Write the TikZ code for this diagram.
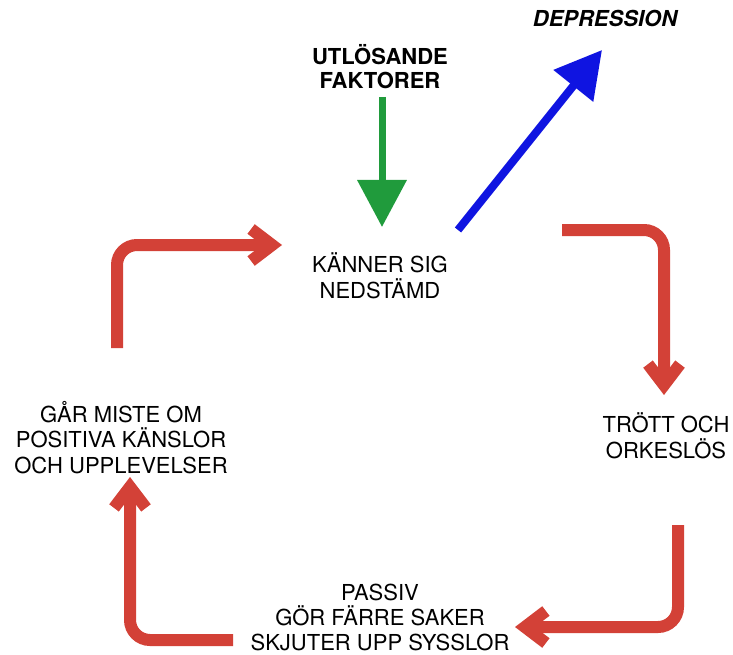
\documentclass[tikz,border=0pt]{standalone}
\usepackage{fontspec}
\setmainfont{TeX Gyre Heros}
\usetikzlibrary{arrows.meta}
\definecolor{cycred}{RGB}{211,65,55}
\definecolor{trigreen}{RGB}{32,155,60}
\definecolor{depblue}{RGB}{15,20,225}
\tikzset{
  lbl/.style={inner sep=0pt, align=center, anchor=base, font=\fontsize{22}{25.5}\selectfont},
  cyc/.style={draw=cycred, line width=12pt, rounded corners=20pt,
    -{Straight Barb[length=21pt,width=32pt,line width=12pt]}},
}
\begin{document}
\begin{tikzpicture}[x=1pt,y=-1pt]
\useasboundingbox (0,0) rectangle (733,655);
% texts (anchor = baseline of last line)
\node[lbl, font=\fontsize{22}{25}\bfseries\itshape] (dep) at (605,27) {DEPRESSION};
\node[lbl, font=\fontsize{22}{24}\bfseries] (utl) at (380,89) {UTLÖSANDE\\FAKTORER};
\node[lbl] (kan) at (380,298) {KÄNNER SIG\\NEDSTÄMD};
\node[lbl] (tro) at (666,458) {TRÖTT OCH\\ORKESLÖS};
\node[lbl, font=\fontsize{22}{25}\selectfont] (pas) at (380,650) {PASSIV\\GÖR FÄRRE SAKER\\SKJUTER UPP SYSSLOR};
\node[lbl] (gar) at (121,473) {GÅR MISTE OM\\POSITIVA KÄNSLOR\\OCH UPPLEVELSER};
% connector ends
\coordinate (g0) at (382,97);
\coordinate (g1) at (382,227);
\coordinate (b0) at (458,230);
\coordinate (b1) at (602,50);
\coordinate (r1a) at (117,348);
\coordinate (r1b) at (282,245);
\coordinate (r2a) at (562,230);
\coordinate (r2b) at (664,395);
\coordinate (r3a) at (678,525);
\coordinate (r3b) at (515,627);
\coordinate (r4a) at (233,640);
\coordinate (r4b) at (130,477);
% arrows
\draw[trigreen, line width=7pt, -{Triangle[length=47pt,width=48pt]}] (g0) -- (g1);
\draw[depblue, line width=8pt, -{Triangle[length=46pt,width=49pt]}] (b0) -- (b1);
\draw[cyc] (r1a) |- (r1b);
\draw[cyc] (r2a) -| (r2b);
\draw[cyc] (r3a) |- (r3b);
\draw[cyc] (r4a) -| (r4b);
\end{tikzpicture}
\end{document}
